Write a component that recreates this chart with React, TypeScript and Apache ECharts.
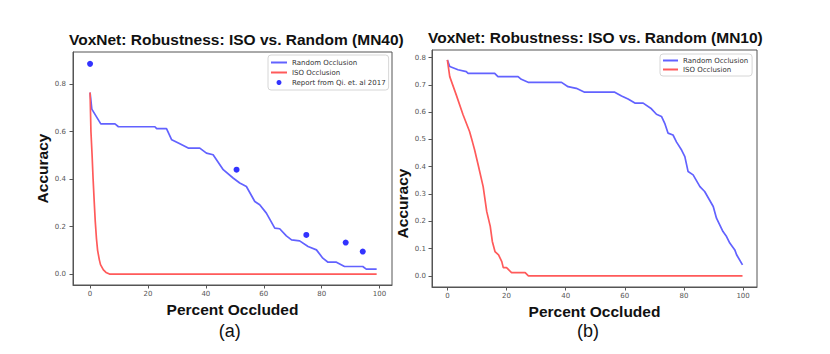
import React, { useEffect, useRef } from "react";
import * as echarts from "echarts";

// ---- Data ----
const xTickValues = [0, 20, 40, 60, 80, 100];
const yTicksA = [0, 0.2, 0.4, 0.6, 0.8];
const yTicksB = [0, 0.1, 0.2, 0.3, 0.4, 0.5, 0.6, 0.7, 0.8];

const titleA = "VoxNet: Robustness: ISO vs. Random (MN40)";
const titleB = "VoxNet: Robustness: ISO vs. Random (MN10)";

// (a) MN40
const randomA: [number, number][] = [
  [0, 0.765], [0.6, 0.695], [3.7, 0.633], [8.6, 0.633], [9.8, 0.621], [22.4, 0.621],
  [23.0, 0.613], [26.4, 0.613], [28.2, 0.566], [30.5, 0.552], [33.9, 0.531], [37.9, 0.531],
  [40.2, 0.51], [42.5, 0.503], [46.0, 0.44], [49.4, 0.405], [51.7, 0.384], [54.0, 0.369],
  [56.9, 0.306], [58.6, 0.292], [60.9, 0.257], [63.8, 0.194], [65.5, 0.191], [67.8, 0.161],
  [69.6, 0.144], [72.4, 0.14], [75.3, 0.116], [78.2, 0.102], [80.4, 0.067], [82.2, 0.05],
  [85.1, 0.05], [87.9, 0.032], [94.2, 0.032], [95.4, 0.021], [99, 0.021],
];
const isoA: [number, number][] = [
  [0, 0.765], [0.3, 0.6], [0.7, 0.5], [1.05, 0.4], [1.45, 0.3], [1.8, 0.22], [2.2, 0.15],
  [2.6, 0.1], [3.2, 0.06], [3.6, 0.04], [4.6, 0.018], [5.5, 0.007], [6.7, 0], [99, 0],
];
const reportA: [number, number][] = [
  [0, 0.886], [50.6, 0.44], [74.7, 0.165], [88.3, 0.133], [94.2, 0.095],
];

// (b) MN10
const randomB: [number, number][] = [
  [0, 0.791], [0.8, 0.767], [3.6, 0.755], [6.4, 0.748], [7.0, 0.742], [16.0, 0.742],
  [17.1, 0.73], [23.9, 0.73], [25.0, 0.72], [27.3, 0.709], [38.6, 0.709], [40.8, 0.693],
  [43.6, 0.687], [46.4, 0.673], [56.6, 0.673], [58.9, 0.659], [61.1, 0.648], [63.4, 0.633],
  [66.2, 0.633], [69.0, 0.612], [70.7, 0.592], [72.4, 0.584], [73.5, 0.559], [74.6, 0.523],
  [76.3, 0.516], [77.5, 0.49], [79.2, 0.461], [80.3, 0.437], [81.4, 0.382], [83.1, 0.37],
  [85.4, 0.327], [87.0, 0.309], [89.9, 0.254], [91.0, 0.211], [93.2, 0.162], [94.4, 0.144],
  [95.5, 0.12], [97.2, 0.095], [97.8, 0.077], [99.8, 0.04],
];
const isoB: [number, number][] = [
  [0, 0.791], [0.8, 0.73], [3.0, 0.663], [5.3, 0.59], [7.5, 0.529], [8.5, 0.49], [9.2, 0.462],
  [10.4, 0.407], [12.1, 0.327], [13.3, 0.236], [14.5, 0.181], [15.2, 0.126], [16.1, 0.089],
  [17.3, 0.077], [18.4, 0.052], [18.9, 0.03], [20.0, 0.03], [21.7, 0.012], [26.3, 0.012],
  [27.4, 0], [99.8, 0],
];

const BLUE = "#6262ff";
const RED = "#ff5a5a";
const DOT = "#0000ff";
const AXIS = "#555555";
const TICK_FONT = "DejaVu Sans";
const BOLD_FONT = "Liberation Sans";

function xAxisCfg(gridIndex: number, min: number, max: number, gap: number) {
  return {
    type: "value",
    gridIndex,
    min,
    max,
    name: "Percent Occluded",
    nameLocation: "middle",
    nameGap: gap,
    nameTextStyle: { fontFamily: BOLD_FONT, fontWeight: "bold", fontSize: 15.5, color: "#111" },
    axisLine: { show: true, onZero: false, lineStyle: { color: AXIS, width: 1 } },
    axisTick: { show: true, customValues: xTickValues, length: 3.5, lineStyle: { color: AXIS } },
    axisLabel: {
      customValues: xTickValues,
      margin: 5,
      fontSize: 7,
      fontFamily: TICK_FONT,
      color: "#555",
      formatter: (v: number) => String(Math.round(v)),
    },
    splitLine: { show: false },
  };
}

function yAxisCfg(gridIndex: number, min: number, max: number, ticks: number[], gap: number, margin: number, pad: number[]) {
  return {
    type: "value",
    gridIndex,
    min,
    max,
    name: "Accuracy",
    nameLocation: "middle",
    nameGap: gap,
    nameTextStyle: { fontFamily: BOLD_FONT, fontWeight: "bold", fontSize: 15.5, color: "#111", padding: pad },
    axisLine: { show: true, onZero: false, lineStyle: { color: AXIS, width: 1 } },
    axisTick: { show: true, customValues: ticks, length: 3.5, lineStyle: { color: AXIS } },
    axisLabel: {
      customValues: ticks,
      margin,
      fontSize: 7,
      fontFamily: TICK_FONT,
      color: "#555",
      formatter: (v: number) => v.toFixed(1),
    },
    splitLine: { show: false },
  };
}

export default function App() {
  const ref = useRef<HTMLDivElement>(null);

  useEffect(() => {
    if (!ref.current) return;
    const chart = echarts.init(ref.current, undefined, { renderer: "svg" });
    const legendText = { fontFamily: TICK_FONT, fontSize: 7, color: "#333" };
    const hideSymbol = { opacity: 0 };
    chart.setOption({
      animation: false,
      backgroundColor: "#ffffff",
      title: [
        {
          text: titleA,
          left: 69,
          top: 31,
          padding: 0,
          textStyle: { fontFamily: BOLD_FONT, fontWeight: "bold", fontSize: 15.5, color: "#111" },
        },
        {
          text: titleB,
          left: 428,
          top: 29,
          padding: 0,
          textStyle: { fontFamily: BOLD_FONT, fontWeight: "bold", fontSize: 15.5, color: "#111" },
        },
      ],
      grid: [
        { left: 73, top: 52, width: 319, height: 233, show: true, borderColor: AXIS, borderWidth: 1, backgroundColor: "#fff" },
        { left: 432, top: 50, width: 325, height: 237, show: true, borderColor: AXIS, borderWidth: 1, backgroundColor: "#fff" },
      ],
      legend: [
        {
          orient: "vertical",
          left: 268,
          top: 55,
          padding: [4, 3, 4, 2],
          itemGap: 3,
          itemWidth: 16,
          itemHeight: 5,
          backgroundColor: "rgba(255,255,255,0.85)",
          borderColor: "#d6d6d6",
          borderWidth: 1,
          borderRadius: 3,
          textStyle: legendText,
          data: [
            { name: "Random Occlusion", itemStyle: hideSymbol },
            { name: "ISO Occlusion", itemStyle: hideSymbol },
            { name: "Report from Qi. et. al 2017", icon: "circle" },
          ],
        },
        {
          orient: "vertical",
          left: 660,
          top: 54,
          padding: [3, 4, 3, 2],
          itemGap: 2,
          itemWidth: 15,
          itemHeight: 5,
          backgroundColor: "rgba(255,255,255,0.85)",
          borderColor: "#d6d6d6",
          borderWidth: 1,
          borderRadius: 3,
          textStyle: legendText,
          data: [
            { name: "Random Occlusion", itemStyle: hideSymbol },
            { name: "ISO Occlusion", itemStyle: hideSymbol },
          ],
        },
      ],
      xAxis: [xAxisCfg(0, -5.9, 104.3, 14), xAxisCfg(1, -5.2, 104.7, 12)],
      yAxis: [
        yAxisCfg(0, -0.046, 0.936, yTicksA, 18, 7, [0, 0, 0, 0]),
        yAxisCfg(1, -0.041, 0.8275, yTicksB, 19, 6, [0, 70, 0, 0]),
      ],
      series: [
        {
          name: "Random Occlusion",
          type: "line",
          xAxisIndex: 0,
          yAxisIndex: 0,
          data: randomA,
          symbol: "none",
          lineStyle: { color: BLUE, width: 1.7 },
          itemStyle: { color: BLUE },
          z: 3,
        },
        {
          name: "ISO Occlusion",
          type: "line",
          xAxisIndex: 0,
          yAxisIndex: 0,
          data: isoA,
          symbol: "none",
          lineStyle: { color: RED, width: 1.7 },
          itemStyle: { color: RED },
          z: 3,
        },
        {
          name: "Report from Qi. et. al 2017",
          type: "scatter",
          xAxisIndex: 0,
          yAxisIndex: 0,
          data: reportA,
          symbol: "circle",
          symbolSize: 6,
          itemStyle: { color: DOT },
          z: 4,
        },
        {
          name: "Random Occlusion",
          type: "line",
          xAxisIndex: 1,
          yAxisIndex: 1,
          data: randomB,
          symbol: "none",
          lineStyle: { color: BLUE, width: 1.7 },
          itemStyle: { color: BLUE },
          z: 3,
        },
        {
          name: "ISO Occlusion",
          type: "line",
          xAxisIndex: 1,
          yAxisIndex: 1,
          data: isoB,
          symbol: "none",
          lineStyle: { color: RED, width: 1.7 },
          itemStyle: { color: RED },
          z: 3,
        },
      ],
      graphic: [
        {
          type: "text",
          left: 230.7 - 12,
          top: 322,
          style: { text: "(a)", fontFamily: BOLD_FONT, fontSize: 18, fill: "#111" },
        },
        {
          type: "text",
          left: 589 - 12,
          top: 322,
          style: { text: "(b)", fontFamily: BOLD_FONT, fontSize: 18, fill: "#111" },
        },
      ],
    });
    return () => chart.dispose();
  }, []);

  return (
    <div
      ref={ref}
      style={{ position: "absolute", left: 0, top: 0, width: 830, height: 354, background: "#fff" }}
    />
  );
}
